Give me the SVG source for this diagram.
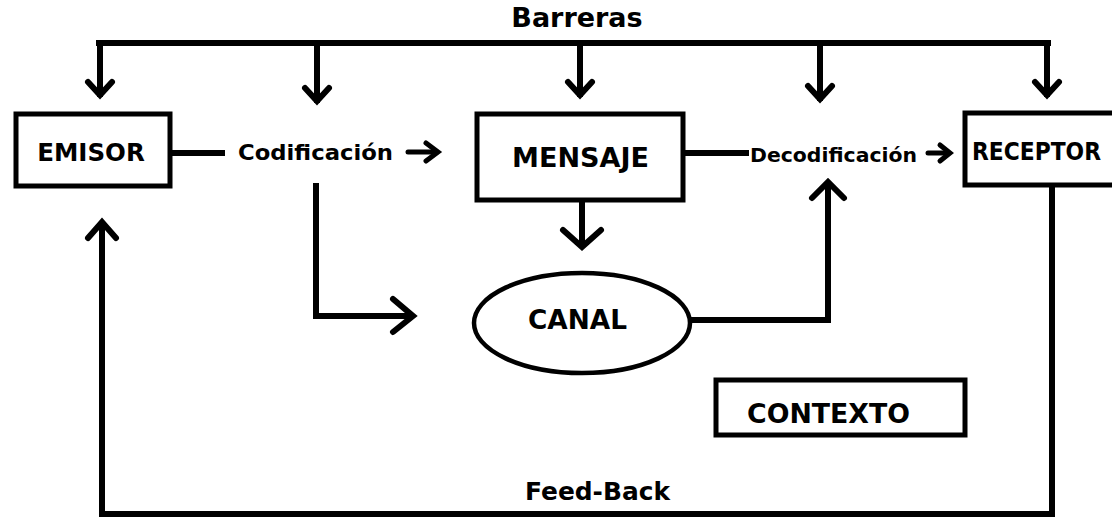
<svg xmlns="http://www.w3.org/2000/svg" width="1112" height="520" viewBox="0 0 1112 520">
<style>
text{font-family:"DejaVu Sans","Verdana",sans-serif;font-weight:bold;fill:#000}
.box{fill:#fff;stroke:#000;stroke-width:5}
.ln{fill:none;stroke:#000;stroke-width:6;stroke-linecap:square;stroke-linejoin:miter}
.hd{fill:none;stroke:#000;stroke-width:6;stroke-linecap:round;stroke-linejoin:miter}
.sh{fill:none;stroke:#000;stroke-width:5;stroke-linecap:round;stroke-linejoin:miter}
</style>
<rect width="1112" height="520" fill="#fff"/>
<g id="connectors">
<path class="ln" d="M99,43 H1048"/>
<path class="ln" d="M100,43 V94 M317,43 V100 M580,43 V94 M820,43 V98 M1047,43 V94"/>
<path class="hd" d="M88,82 L100,95 L112,82 M305,88 L317,101 L329,88 M568,82 L580,95 L592,82 M808,86 L820,99 L832,86 M1035,82 L1047,95 L1059,82"/>
<path class="ln" d="M172,153 H222"/>
<path class="sh" d="M408,152 H436"/>
<path class="sh" d="M426,143 L438,152 L426,161"/>
<path class="ln" d="M685,153 H746"/>
<path class="sh" d="M928,153 H948"/>
<path class="sh" d="M940,145 L950,153 L940,161"/>
<path class="ln" d="M582,201 V244"/>
<path class="hd" d="M563,230 L582,247 L601,230"/>
<path class="ln" d="M316,186 V316 H410"/>
<path class="hd" d="M393,299 L413,316 L393,332"/>
<path class="ln" d="M690,320 H828 V186"/>
<path class="hd" d="M812,198 L828,182 L844,198"/>
<path class="ln" d="M1052,186 V514 H102 V224"/>
<path class="hd" d="M88,238 L102,222 L116,238"/>
</g>
<g id="barreras"><text x="577" y="27" font-size="27" text-anchor="middle">Barreras</text></g>
<g id="emisor"><rect class="box" x="16" y="114" width="154" height="72"/><text x="91" y="161" font-size="24.5" text-anchor="middle">EMISOR</text></g>
<g id="codificacion"><text x="238" y="160" font-size="20.8" textLength="155" lengthAdjust="spacingAndGlyphs">Codificación</text></g>
<g id="mensaje"><rect class="box" x="477" y="114" width="206" height="86"/><text x="512" y="167" font-size="27" textLength="137" lengthAdjust="spacingAndGlyphs">MENSAJE</text></g>
<g id="decodificacion"><text x="750" y="162" font-size="20.3" textLength="167" lengthAdjust="spacingAndGlyphs">Decodificación</text></g>
<g id="receptor"><rect class="box" x="965" y="113" width="152" height="72"/><text x="972" y="160" font-size="24.5" textLength="129" lengthAdjust="spacingAndGlyphs">RECEPTOR</text></g>
<g id="canal"><ellipse cx="582" cy="323" rx="108" ry="50" fill="#fff" stroke="#000" stroke-width="4.5"/><text x="528" y="329" font-size="26.4" textLength="99" lengthAdjust="spacingAndGlyphs">CANAL</text></g>
<g id="contexto"><rect class="box" x="716" y="380" width="249" height="55"/><text x="747" y="423" font-size="26.8" textLength="163" lengthAdjust="spacingAndGlyphs">CONTEXTO</text></g>
<g id="feedback"><text x="525" y="500" font-size="25" textLength="145" lengthAdjust="spacingAndGlyphs">Feed-Back</text></g>
</svg>
